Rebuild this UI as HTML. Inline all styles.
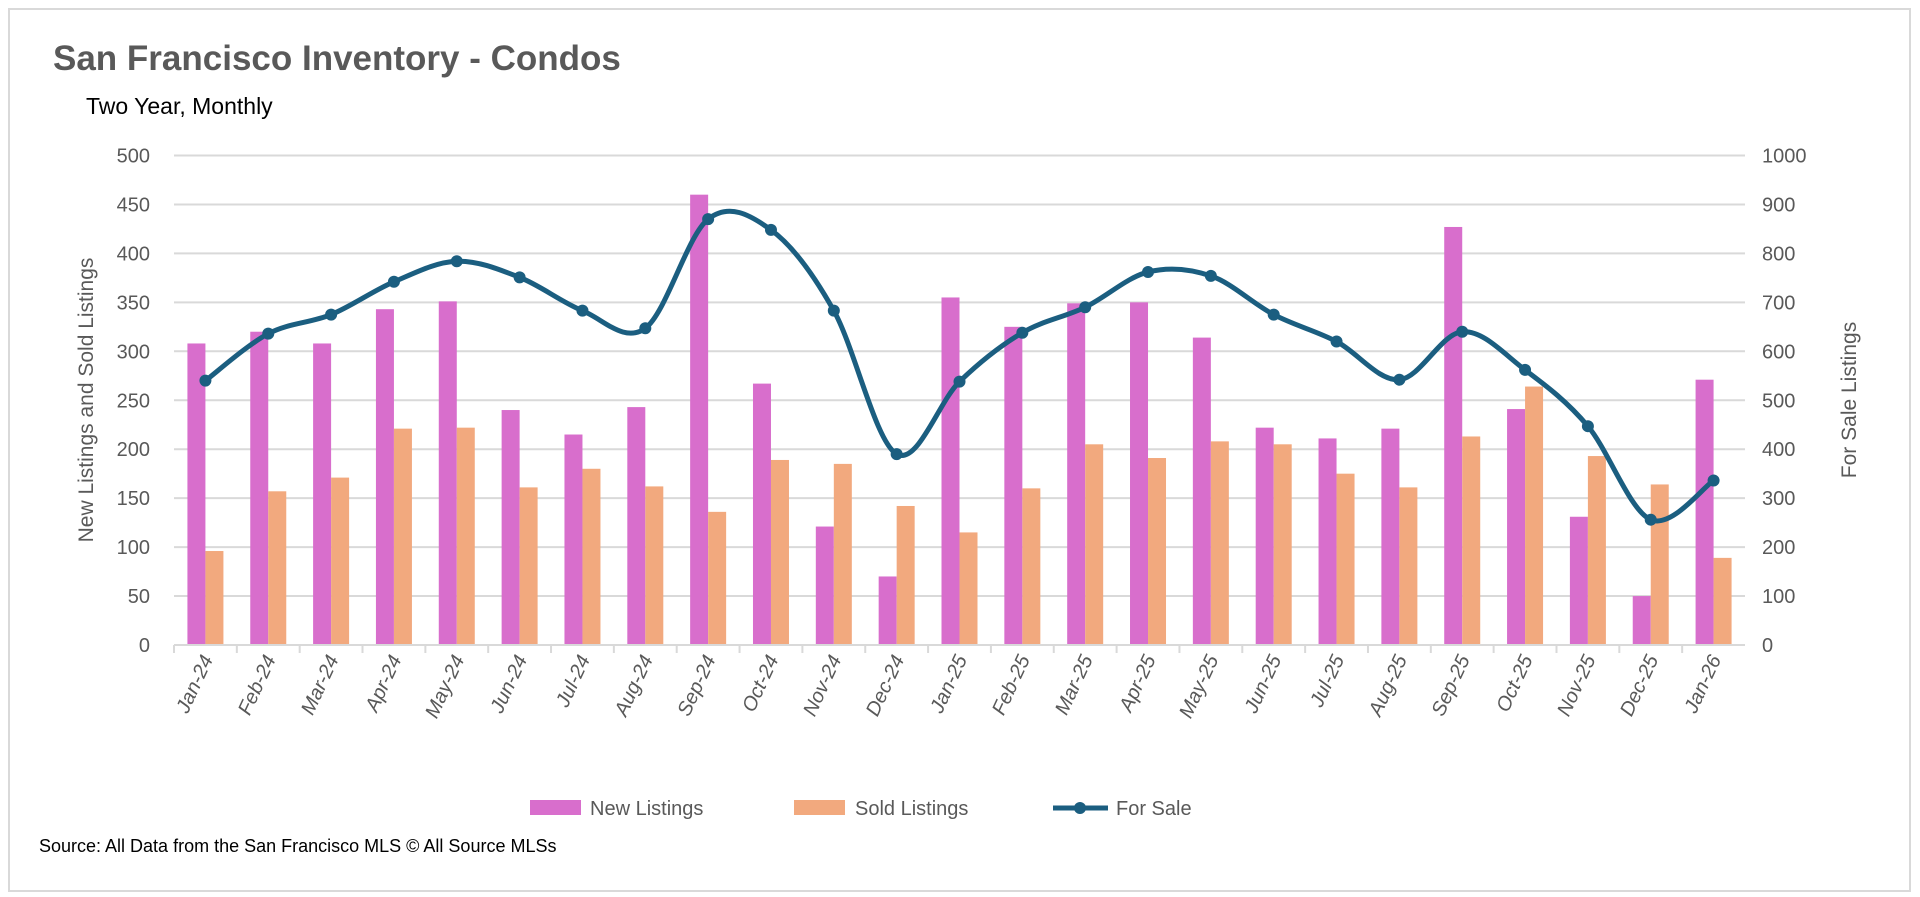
<!DOCTYPE html>
<html><head><meta charset="utf-8"><style>
html,body{margin:0;padding:0;background:#fff;}
svg{display:block;font-family:"Liberation Sans",sans-serif;}
</style></head><body>
<svg id="chart" width="1920" height="897" viewBox="0 0 1920 897">
<rect x="9" y="9" width="1901" height="882" fill="#fff" stroke="#d9d9d9" stroke-width="2"/>
<text x="53" y="70" font-size="35" font-weight="bold" fill="#595959">San Francisco  Inventory - Condos</text>
<text x="86" y="114" font-size="23" fill="#000">Two Year, Monthly</text>
<g id="grid"></g><g id="bars"></g><g id="line"></g><g id="axes"></g>
<text transform="translate(93,400) rotate(-90)" text-anchor="middle" font-size="21" fill="#595959">New Listings and Sold Listings</text>
<text transform="translate(1856,400) rotate(-90)" text-anchor="middle" font-size="21" fill="#595959">For Sale Listings</text>
<g>
<g><rect x="530" y="800" width="51" height="15" fill="#d86ecc"/><text x="590" y="815" font-size="20" fill="#595959">New Listings</text></g>
<g><rect x="794" y="800" width="51" height="15" fill="#f2a97e"/><text x="855" y="815" font-size="20" fill="#595959">Sold Listings</text></g>
<g><line x1="1053" y1="808" x2="1108" y2="808" stroke="#1b5e80" stroke-width="5"/><circle cx="1080" cy="808" r="6" fill="#1b5e80"/><text x="1116" y="815" font-size="20" fill="#595959">For Sale</text></g>
</g>
<text x="39" y="852" font-size="18" fill="#000">Source: All Data from the San Francisco MLS © All Source MLSs</text>
</svg>
<script>
const categories=["Jan-24","Feb-24","Mar-24","Apr-24","May-24","Jun-24","Jul-24","Aug-24","Sep-24","Oct-24","Nov-24","Dec-24","Jan-25","Feb-25","Mar-25","Apr-25","May-25","Jun-25","Jul-25","Aug-25","Sep-25","Oct-25","Nov-25","Dec-25","Jan-26"];
const newListings=[308,320,308,343,351,240,215,243,460,267,121,70,355,325,349,350,314,222,211,221,427,241,131,50,271];
const soldListings=[96,157,171,221,222,161,180,162,136,189,185,142,115,160,205,191,208,205,175,161,213,264,193,164,89];
const forSale=[540,636,675,742,784,751,683,647,870,848,683,390,538,638,690,762,754,675,620,542,640,562,447,256,336];
const leftTicks=[0,50,100,150,200,250,300,350,400,450,500];
const rightTicks=[0,100,200,300,400,500,600,700,800,900,1000];
const NS="http://www.w3.org/2000/svg";
const X0=174,X1=1745,Y0=645,Y1=155.5;
const bw=(X1-X0)/categories.length;
const yL=v=>Y0-(v/500)*(Y0-Y1);
const yR=v=>Y0-(v/1000)*(Y0-Y1);
const xC=i=>X0+bw*(i+0.5);
function mk(t,a,p){const e=document.createElementNS(NS,t);for(const k in a)e.setAttribute(k,a[k]);p.appendChild(e);return e;}
const grid=document.getElementById('grid'),bars=document.getElementById('bars'),line=document.getElementById('line'),axes=document.getElementById('axes');
leftTicks.forEach((v,i)=>{
 if(v>0){const g=mk('line',{x1:X0,x2:X1,y1:yL(v),y2:yL(v),stroke:'#d9d9d9','stroke-width':2},grid);
 
 }
 const t=mk('text',{x:150,y:yL(v)+7,'text-anchor':'end','font-size':20,fill:'#595959'},axes);t.textContent=v;
 
 
});
rightTicks.forEach(v=>{
 const t=mk('text',{x:1762,y:yR(v)+7,'font-size':20,fill:'#595959'},axes);t.textContent=v;
 
 
});
const ax=mk('line',{x1:X0,x2:X1,y1:Y0,y2:Y0,stroke:'#d9d9d9','stroke-width':2},axes);


categories.forEach((c,i)=>{
 const tk=mk('line',{x1:X0+bw*i,x2:X0+bw*i,y1:Y0,y2:Y0+8,stroke:'#d9d9d9','stroke-width':2},axes);
 
 
 const cx=xC(i);
 const b1=mk('rect',{x:cx-18,y:yL(newListings[i]),width:18,height:Y0-yL(newListings[i]),fill:'#d86ecc'},bars);
 
 
 const b2=mk('rect',{x:cx,y:yL(soldListings[i]),width:18,height:Y0-yL(soldListings[i]),fill:'#f2a97e'},bars);
 
 
 const t=mk('text',{transform:`translate(${cx+8},${Y0+14}) rotate(-65)`,'text-anchor':'end','font-size':20,fill:'#595959','font-style':'italic'},axes);t.textContent=c;
 
 
});
const pts=forSale.map((v,i)=>[xC(i),yR(v)]);
let d=`M${pts[0][0]},${pts[0][1]}`;
for(let i=0;i<pts.length-1;i++){
 const p0=pts[Math.max(i-1,0)],p1=pts[i],p2=pts[i+1],p3=pts[Math.min(i+2,pts.length-1)];
 const k=1/6;
 d+=` C${p1[0]+(p2[0]-p0[0])*k},${p1[1]+(p2[1]-p0[1])*k} ${p2[0]-(p3[0]-p1[0])*k},${p2[1]-(p3[1]-p1[1])*k} ${p2[0]},${p2[1]}`;
}
const pl=mk('path',{d:d,fill:'none',stroke:'#1b5e80','stroke-width':5},line);


pts.forEach(p=>{
 const c=mk('circle',{cx:p[0],cy:p[1],r:6,fill:'#1b5e80'},line);
 
 
});
</script>
</body></html>
